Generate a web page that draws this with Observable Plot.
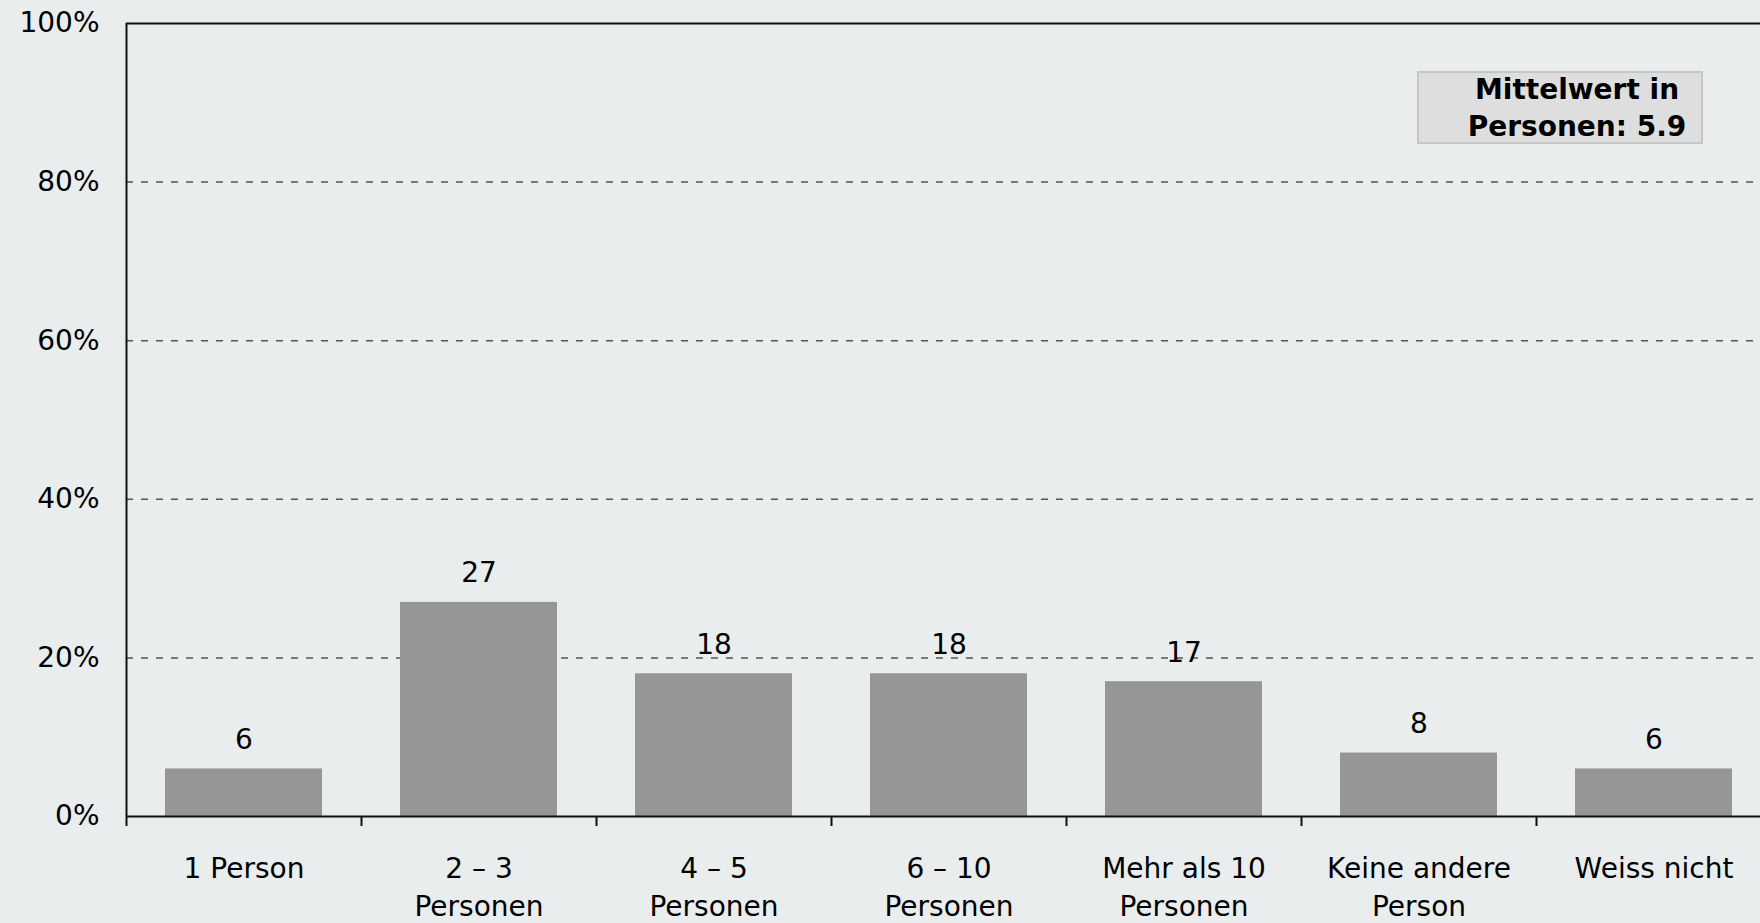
<!DOCTYPE html>
<html>
<head>
<meta charset="utf-8">
<script src="https://cdn.jsdelivr.net/npm/d3@7"></script>
<script src="https://cdn.jsdelivr.net/npm/@observablehq/plot@0.6"></script>
<style>
  html, body { margin: 0; padding: 0; background: #e9edee; overflow: hidden; }
  #wrap { position: relative; width: 1760px; height: 923px; overflow: hidden; }
  #wrap svg { max-width: none !important; }
  #note {
    position: absolute; left: 1417px; top: 71px; width: 248px; height: 69px;
    padding-left: 34px;
    background: #dedede; border: 2px solid #c6c6c6;
    font-family: "DejaVu Sans", sans-serif; font-weight: bold; font-size: 28px;
    line-height: 37px; text-align: center; color: #000;
    display: flex; flex-direction: column; justify-content: center;
  }
</style>
</head>
<body>
<div id="wrap"><div id="note"><div>Mittelwert in</div><div>Personen: 5.9</div></div></div>
<script>
const categories = ["1 Person", "2 – 3\nPersonen", "4 – 5\nPersonen", "6 – 10\nPersonen", "Mehr als 10\nPersonen", "Keine andere\nPerson", "Weiss nicht"];
const values = [6, 27, 18, 18, 17, 8, 6];
const yTicks = [0, 20, 40, 60, 80, 100];
const gridTicks = [20, 40, 60, 80];

const data = categories.map((c, i) => ({i, label: c, value: values[i]}));
const boundaries = d3.range(categories.length + 1);

const chart = Plot.plot({
  width: 1771,
  height: 923,
  marginLeft: 126,
  marginRight: 0,
  marginTop: 23,
  marginBottom: 107,
  style: {fontFamily: "DejaVu Sans, sans-serif", fontSize: "28px", background: "#e9edee", color: "#000", maxWidth: "none"},
  x: {domain: [0, categories.length]},
  y: {domain: [0, 100]},
  marks: [
    Plot.ruleY(gridTicks, {stroke: "#555", strokeWidth: 1.5, strokeDasharray: "7,8"}),
    Plot.rectY(data, {x1: "i", x2: d => d.i + 1, y: "value", fill: "#969696", insetLeft: 39, insetRight: 39}),
    Plot.text(data, {x: d => d.i + 0.5, y: "value", text: d => String(d.value), dy: -29, fontSize: 28, fill: "#000"}),
    Plot.text(data, {x: d => d.i + 0.5, y: 0, text: "label", lineAnchor: "top", dy: 35, fontSize: 28, lineHeight: 38 / 28, fill: "#000"}),
    Plot.ruleY([100], {stroke: "#111", strokeWidth: 2}),
    Plot.ruleY([0], {stroke: "#111", strokeWidth: 2}),
    Plot.ruleX([0], {stroke: "#111", strokeWidth: 2}),
    Plot.axisX({ticks: boundaries, tickSize: 10, tickFormat: () => "", stroke: "#111", strokeWidth: 2, label: null}),
    Plot.axisY({ticks: yTicks, tickSize: 0, tickPadding: 27, tickFormat: d => d + "%", fontSize: 28, label: null})
  ]
});
document.getElementById("wrap").insertBefore(chart, document.getElementById("note"));
</script>
</body>
</html>
